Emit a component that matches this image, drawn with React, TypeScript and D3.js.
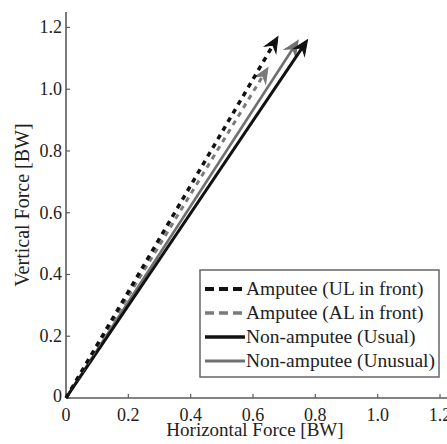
import * as d3 from "d3";
import { useEffect, useRef } from "react";

// arrow tips, all arrows start at the origin
const seriesNames = [
  "Amputee (UL in front)",
  "Amputee (AL in front)",
  "Non-amputee (Usual)",
  "Non-amputee (Unusual)",
];
const horizontalForce = [0.68, 0.648, 0.775, 0.745];
const verticalForce = [1.17, 1.07, 1.16, 1.158];
const tickValues = [0, 0.2, 0.4, 0.6, 0.8, 1.0, 1.2];

const styles = [
  { color: "#111", width: 3.5, dash: "5,5", legendDash: "9,5" },
  { color: "#7a7a7a", width: 3, dash: "5,5", legendDash: "9,5" },
  { color: "#111", width: 3, dash: null, legendDash: null },
  { color: "#707070", width: 2.6, dash: null, legendDash: null },
];

const font = "'Liberation Serif', 'Times New Roman', serif";

export default function App() {
  const svgRef = useRef(null);

  useEffect(() => {
    const svg = d3.select(svgRef.current);
    svg.selectAll("*").remove();

    const x = d3.scaleLinear().domain([0, 1.25]).range([66, 455.6]);
    const y = d3.scaleLinear().domain([0, 1.25]).range([398, 12]);
    const fmt = (d) => (d === 0 ? "0" : d3.format(".1f")(d));

    // axes
    const axisColor = "#5a5a5a";
    svg.append("line")
      .attr("x1", x(0)).attr("x2", 447)
      .attr("y1", y(0)).attr("y2", y(0))
      .attr("stroke", axisColor).attr("stroke-width", 1.6);
    svg.append("line")
      .attr("x1", x(0)).attr("x2", x(0))
      .attr("y1", y(0)).attr("y2", y(1.25))
      .attr("stroke", axisColor).attr("stroke-width", 1.6);

    svg.selectAll(".xtick").data(tickValues).enter().append("line")
      .attr("x1", (d) => x(d)).attr("x2", (d) => x(d))
      .attr("y1", y(0)).attr("y2", y(0) - 4)
      .attr("stroke", axisColor).attr("stroke-width", 1.2);
    svg.selectAll(".ytick").data(tickValues).enter().append("line")
      .attr("x1", x(0)).attr("x2", x(0) + 4)
      .attr("y1", (d) => y(d)).attr("y2", (d) => y(d))
      .attr("stroke", axisColor).attr("stroke-width", 1.2);

    svg.selectAll(".xlab").data(tickValues).enter().append("text")
      .attr("x", (d) => x(d)).attr("y", 421)
      .attr("text-anchor", "middle")
      .attr("font-family", font).attr("font-size", 18).attr("fill", "#222")
      .text(fmt);
    svg.selectAll(".ylab").data(tickValues.slice(1)).enter().append("text")
      .attr("x", 62).attr("y", (d) => y(d) + 6)
      .attr("text-anchor", "end")
      .attr("font-family", font).attr("font-size", 18).attr("fill", "#222")
      .text(fmt);
    svg.append("text")
      .attr("x", 62).attr("y", 402)
      .attr("text-anchor", "end")
      .attr("font-family", font).attr("font-size", 18).attr("fill", "#222")
      .text("0");

    svg.append("text")
      .attr("x", 255).attr("y", 436)
      .attr("text-anchor", "middle")
      .attr("font-family", font).attr("font-size", 19).attr("fill", "#222")
      .text("Horizontal Force [BW]");
    svg.append("text")
      .attr("transform", `translate(29,${(y(0) + y(1.25)) / 2}) rotate(-90)`)
      .attr("text-anchor", "middle")
      .attr("font-family", font).attr("font-size", 20).attr("fill", "#222")
      .text("Vertical Force [BW]");

    // arrows
    const headLen = 15, headHalf = 6.5, notch = 5;
    const order = [3, 2, 1, 0];
    order.forEach((i) => {
      const s = styles[i];
      const x0 = x(0), y0 = y(0);
      const x1 = x(horizontalForce[i]), y1 = y(verticalForce[i]);
      const ang = Math.atan2(y1 - y0, x1 - x0);
      const len = Math.hypot(x1 - x0, y1 - y0);
      const g = svg.append("g")
        .attr("transform", `translate(${x0},${y0}) rotate(${(ang * 180) / Math.PI})`);
      g.append("line")
        .attr("x1", 0).attr("y1", 0)
        .attr("x2", len - headLen + notch).attr("y2", 0)
        .attr("stroke", s.color).attr("stroke-width", s.width)
        .attr("stroke-dasharray", s.dash);
      g.append("path")
        .attr("d", `M${len},0 L${len - headLen},${-headHalf} L${len - headLen + notch},0 L${len - headLen},${headHalf} Z`)
        .attr("fill", s.color).attr("stroke", s.color).attr("stroke-width", 1)
        .attr("stroke-linejoin", "miter");
    });

    // legend
    const lg = svg.append("g");
    lg.append("rect")
      .attr("x", 200).attr("y", 270).attr("width", 239).attr("height", 107)
      .attr("fill", "white").attr("stroke", "#666").attr("stroke-width", 1.5);
    const rowY = d3.scaleLinear().domain([0, 3]).range([289, 361]);
    seriesNames.forEach((name, i) => {
      const s = styles[i];
      lg.append("line")
        .attr("x1", 205).attr("x2", 245)
        .attr("y1", rowY(i)).attr("y2", rowY(i))
        .attr("stroke", s.color).attr("stroke-width", s.width + 0.5)
        .attr("stroke-dasharray", s.legendDash);
      lg.append("text")
        .attr("x", 246).attr("y", rowY(i) + 6)
        .attr("font-family", font).attr("font-size", 19.5).attr("fill", "#222")
        .text(name);
    });
  }, []);

  return (
    <div style={{ position: "absolute", left: 0, top: 0 }}>
      <svg ref={svgRef} width={447} height={444} style={{ display: "block", background: "white" }}></svg>
    </div>
  );
}
